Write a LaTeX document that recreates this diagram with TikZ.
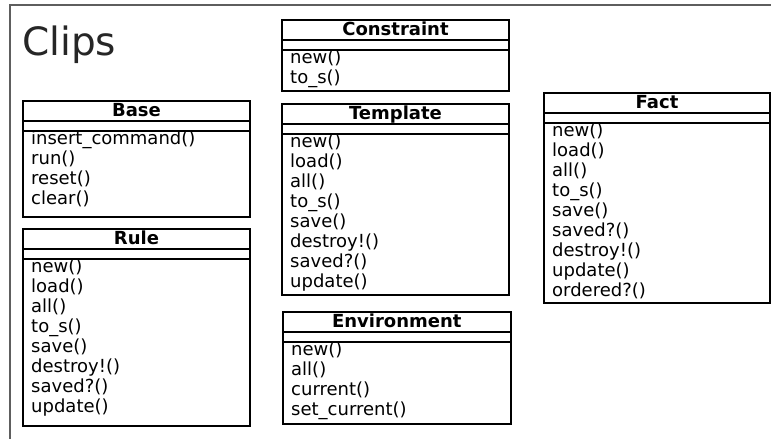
\documentclass[tikz,border=0pt]{standalone}
\usepackage{fontspec}
\setmainfont{DejaVu Sans}
\usetikzlibrary{positioning}

\definecolor{framegray}{HTML}{5E5E5E}
\definecolor{titleink}{HTML}{262626}

\tikzset{
  frameline/.style={draw=framegray, line width=2pt},
  classbox/.style={draw=black, line width=2pt, fill=white, inner sep=0pt, outer sep=0pt},
  divider/.style={draw=black, line width=1.6pt},
  classtitle/.style={inner sep=0pt, font=\fontsize{18}{20}\selectfont\bfseries},
  method/.style={inner sep=0pt, font=\fontsize{18}{20}\selectfont},
  bigtitle/.style={inner sep=0pt, text=titleink, font=\fontsize{39}{44}\selectfont},
}

% #1 name, #2 left x, #3 top y, #4 width, #5 height, #6 class name, #7 operations
\newcommand\umlclass[7]{%
  \node[classbox, minimum width=#4pt, minimum height=#5pt, anchor=north west] (#1) at (#2,#3) {};
  \draw[divider] ([yshift=-20pt]#1.north west) -- ([yshift=-20pt]#1.north east);
  \draw[divider] ([yshift=-30pt]#1.north west) -- ([yshift=-30pt]#1.north east);
  \node[classtitle, anchor=base] (#1-title) at ([yshift=-15pt]#1.north) {#6};
  \foreach \m [count=\i] in {#7}
    \node[method, anchor=base west] (#1-m\i) at ([xshift=8pt, yshift={-43pt-(\i-1)*20pt}]#1.north west) {\m};
}

\begin{document}
\begin{tikzpicture}[x=1pt, y=-1pt]
  \useasboundingbox (0,0) rectangle (771,439);

  % package frame (open on the right and at the bottom)
  \coordinate (frame-tr) at (771,4.5);
  \coordinate (frame-tl) at (9,4.5);
  \coordinate (frame-corner) at (10,4.5);
  \coordinate (frame-bl) at (10,439);
  \draw[frameline] (frame-tl) -- (frame-tr);
  \draw[frameline] (frame-corner) -- (frame-bl);

  \node[bigtitle, anchor=base west] (pkg) at (22,55) {Clips};

  \umlclass{base}{23}{101}{227}{116}{Base}
    {insert\_command(), run(), reset(), clear()}
  \umlclass{rule}{23}{229}{227}{197}{Rule}
    {new(), load(), all(), to\_s(), save(), destroy!(), saved?(), update()}
  \umlclass{constraint}{282}{20}{227}{71}{Constraint}
    {new(), to\_s()}
  \umlclass{template}{282}{104}{227}{191}{Template}
    {new(), load(), all(), to\_s(), save(), destroy!(), saved?(), update()}
  \umlclass{environment}{283}{312}{227.5}{112}{Environment}
    {new(), all(), current(), set\_current()}
  \umlclass{fact}{544}{93}{226}{210}{Fact}
    {new(), load(), all(), to\_s(), save(), saved?(), destroy!(), update(), ordered?()}
\end{tikzpicture}
\end{document}
